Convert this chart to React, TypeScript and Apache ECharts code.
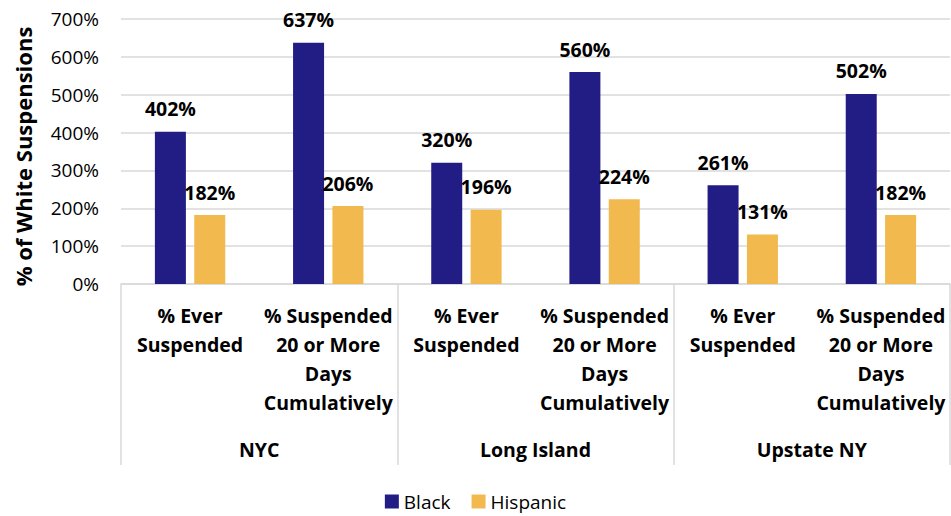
import React, { useEffect, useRef } from "react";
import * as echarts from "echarts";

// Suspension rates relative to White students, by region and measure
const regions = ["NYC", "Long Island", "Upstate NY"];
const measures = [
  "% Ever\nSuspended",
  "% Suspended\n20 or More\nDays\nCumulatively",
];
const categories = regions.flatMap(() => measures);
const blackValues = [402, 637, 320, 560, 261, 502];
const hispanicValues = [182, 206, 196, 224, 131, 182];
const yTicks = [0, 100, 200, 300, 400, 500, 600, 700];

const FONT = "'Open Sans', Lato, sans-serif";
const GRID_GREY = "#d9d9d9";

export default function App() {
  const ref = useRef<HTMLDivElement>(null);

  useEffect(() => {
    if (!ref.current) return;
    const chart = echarts.init(ref.current, undefined, { renderer: "svg" });

    const valueLabel = {
      show: true,
      position: "top" as const,
      distance: 13,
      formatter: (p: any) => `${p.value}%`,
      fontFamily: FONT,
      fontWeight: "bold" as const,
      fontSize: 19.5,
      color: "#000",
    };

    chart.setOption({
      animation: false,
      textStyle: { fontFamily: FONT },
      grid: { left: 121, right: 1, top: 19, bottom: 232, containLabel: false },
      legend: {
        bottom: 0,
        left: "center",
        itemWidth: 14,
        itemHeight: 14,
        itemGap: 21,
        icon: "rect",
        textStyle: { fontFamily: FONT, fontSize: 19, color: "#000" },
        data: ["Black", "Hispanic"],
      },
      xAxis: [
        {
          type: "category",
          data: categories,
          position: "bottom",
          axisLine: { show: true, lineStyle: { color: GRID_GREY, width: 1.5 } },
          axisTick: { show: false },
          axisLabel: {
            interval: 0,
            margin: 17,
            fontFamily: FONT,
            fontWeight: "bold",
            fontSize: 19.5,
            lineHeight: 29,
            color: "#000",
            align: "center",
          },
        },
        {
          type: "category",
          data: regions,
          position: "bottom",
          axisLine: { show: false },
          axisTick: {
            show: true,
            inside: false,
            length: 181,
            interval: 0,
            lineStyle: { color: GRID_GREY, width: 1.5 },
          },
          axisLabel: {
            interval: 0,
            margin: 155,
            fontFamily: FONT,
            fontWeight: "bold",
            fontSize: 19.5,
            color: "#000",
          },
        },
      ],
      yAxis: {
        type: "value",
        min: yTicks[0],
        max: yTicks[yTicks.length - 1],
        interval: 100,
        name: "% of White Suspensions",
        nameLocation: "middle",
        nameGap: 87,
        nameRotate: 90,
        nameTextStyle: {
          fontFamily: FONT,
          fontWeight: "bold",
          fontSize: 22,
          color: "#000",
          padding: [0, 10, 0, 0],
        },
        axisLine: { show: false },
        axisTick: { show: false },
        splitLine: { lineStyle: { color: GRID_GREY, width: 1.5 } },
        axisLabel: {
          margin: 22,
          fontFamily: FONT,
          fontSize: 19,
          color: "#000",
          formatter: (v: number) => `${v}%`,
        },
      },
      series: [
        {
          name: "Black",
          type: "bar",
          xAxisIndex: 0,
          data: blackValues,
          barWidth: 31,
          barGap: "27%",
          itemStyle: { color: "#221c85" },
          label: valueLabel,
        },
        {
          name: "Hispanic",
          type: "bar",
          xAxisIndex: 0,
          data: hispanicValues,
          barWidth: 31,
          itemStyle: { color: "#f2b94f" },
          label: valueLabel,
        },
      ],
    });

    return () => chart.dispose();
  }, []);

  return <div ref={ref} style={{ width: 951, height: 516, position: "absolute", left: 0, top: 0 }} />;
}
